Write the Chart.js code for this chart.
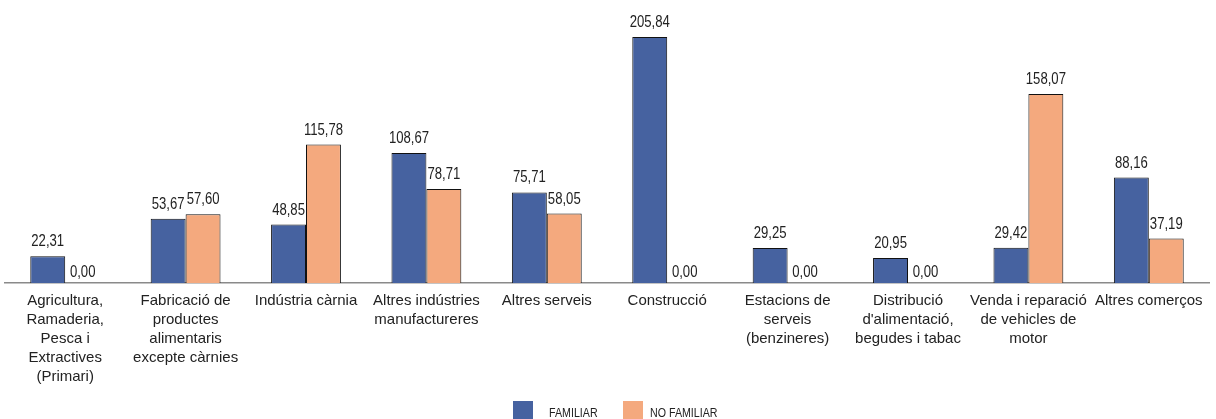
<!DOCTYPE html>
<html>
<head>
<meta charset="utf-8">
<script src="https://cdn.jsdelivr.net/npm/chart.js@4/dist/chart.umd.min.js"></script>
<style>
  html, body { margin: 0; padding: 0; background: #ffffff; overflow: hidden; }
  #wrap { width: 1216px; height: 419px; }
</style>
</head>
<body>
<div id="wrap"><canvas id="c" width="1216" height="419"></canvas></div>
<script>
// Sectors
const categories = [
  ["Agricultura,", "Ramaderia,", "Pesca i", "Extractives", "(Primari)"],
  ["Fabricació de", "productes", "alimentaris", "excepte càrnies"],
  ["Indústria càrnia"],
  ["Altres indústries", "manufactureres"],
  ["Altres serveis"],
  ["Construcció"],
  ["Estacions de", "serveis", "(benzineres)"],
  ["Distribució", "d'alimentació,", "begudes i tabac"],
  ["Venda i reparació", "de vehicles de", "motor"],
  ["Altres comerços"]
];

// Values per sector
const familiar   = [22.31, 53.67, 48.85, 108.67, 75.71, 205.84, 29.25, 20.95, 29.42, 88.16];
const noFamiliar = [0.00, 57.60, 115.78, 78.71, 58.05, 0.00, 0.00, 0.00, 158.07, 37.19];

const seriesNames = ["FAMILIAR", "NO FAMILIAR"];

const FONT = "'Liberation Sans', Arial, sans-serif";
const BLUE = "#4662a0";
const ORANGE = "#f4a97e";
const NARROW = 0.82; // horizontal squeeze for a condensed look

const fmt = v => v.toFixed(2).replace(".", ",");

// Draw condensed text centred on / starting at x
function narrowText(ctx, text, x, y) {
  ctx.save();
  ctx.translate(x, y);
  ctx.scale(NARROW, 1);
  ctx.fillText(text, 0, 0);
  ctx.restore();
}

// Value labels above each bar
const valueLabels = {
  id: "valueLabels",
  afterDatasetsDraw(chart) {
    const ctx = chart.ctx;
    ctx.save();
    ctx.font = "16px " + FONT;
    ctx.fillStyle = "#222222";
    ctx.textAlign = "center";
    ctx.textBaseline = "alphabetic";
    chart.data.datasets.forEach((ds, i) => {
      const meta = chart.getDatasetMeta(i);
      meta.data.forEach((el, j) => {
        const v = ds.data[j];
        const off = v === 0 ? 6 : 10;
        narrowText(ctx, fmt(v), el.x, el.y - off);
      });
    });
    ctx.restore();
  }
};

// Legend row along the bottom edge
const bottomLegend = {
  id: "bottomLegend",
  afterDraw(chart) {
    const ctx = chart.ctx;
    ctx.save();
    ctx.font = "13px " + FONT;
    ctx.textBaseline = "alphabetic";
    ctx.textAlign = "left";
    const items = [
      { x: 513, textX: 549 },
      { x: 623, textX: 650 }
    ];
    chart.data.datasets.forEach((ds, i) => {
      const it = items[i];
      ctx.fillStyle = ds.backgroundColor;
      ctx.fillRect(it.x, 401, 20, 20);
      ctx.fillStyle = "#222222";
      narrowText(ctx, ds.label, it.textX, 417);
    });
    ctx.restore();
  }
};

new Chart(document.getElementById("c"), {
  type: "bar",
  data: {
    labels: categories,
    datasets: [
      {
        label: seriesNames[0],
        data: familiar,
        backgroundColor: BLUE,
        borderColor: "#111111",
        borderWidth: 1
      },
      {
        label: seriesNames[1],
        data: noFamiliar,
        backgroundColor: ORANGE,
        borderColor: "#111111",
        borderWidth: 1
      }
    ]
  },
  options: {
    responsive: false,
    animation: false,
    devicePixelRatio: 1,
    categoryPercentage: 0.58,
    barPercentage: 1.0,
    layout: { padding: { left: 5, right: 7, top: 20, bottom: 25 } },
    plugins: {
      legend: { display: false },
      tooltip: { enabled: false }
    },
    scales: {
      x: {
        grid: { display: false, drawTicks: false },
        border: { display: true, color: "#8a8a8a", width: 1.5 },
        ticks: {
          autoSkip: false,
          maxRotation: 0,
          minRotation: 0,
          padding: 8,
          color: "#222222",
          font: { family: FONT, size: 15, lineHeight: 19 / 15 }
        }
      },
      y: {
        display: false,
        min: 0,
        max: 220
      }
    }
  },
  plugins: [valueLabels, bottomLegend]
});
</script>
</body>
</html>
